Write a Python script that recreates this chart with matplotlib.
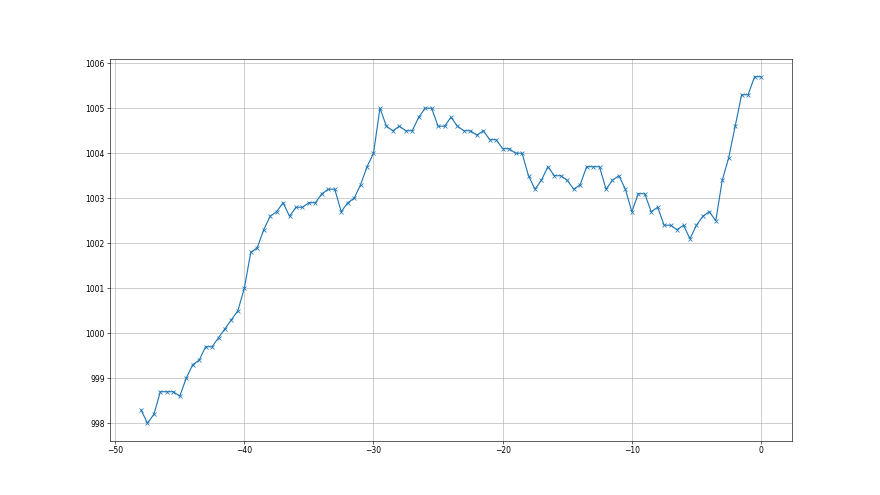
import numpy as np
import matplotlib
matplotlib.use('Agg')
import matplotlib.pyplot as plt

# hours before now, half-hour steps
hours = np.arange(-48, 0.01, 0.5)

pressure = [
    998.3, 998.0, 998.2, 998.7, 998.7, 998.7, 998.6, 999.0, 999.3, 999.4,
    999.7, 999.7, 999.9, 1000.1, 1000.3, 1000.5, 1001.0, 1001.8, 1001.9, 1002.3,
    1002.6, 1002.7, 1002.9, 1002.6, 1002.8, 1002.8, 1002.9, 1002.9, 1003.1, 1003.2,
    1003.2, 1002.7, 1002.9, 1003.0, 1003.3, 1003.7, 1004.0, 1005.0, 1004.6, 1004.5,
    1004.6, 1004.5, 1004.5, 1004.8, 1005.0, 1005.0, 1004.6, 1004.6, 1004.8, 1004.6,
    1004.5, 1004.5, 1004.4, 1004.5, 1004.3, 1004.3, 1004.1, 1004.1, 1004.0, 1004.0,
    1003.5, 1003.2, 1003.4, 1003.7, 1003.5, 1003.5, 1003.4, 1003.2, 1003.3, 1003.7,
    1003.7, 1003.7, 1003.2, 1003.4, 1003.5, 1003.2, 1002.7, 1003.1, 1003.1, 1002.7,
    1002.8, 1002.4, 1002.4, 1002.3, 1002.4, 1002.1, 1002.4, 1002.6, 1002.7, 1002.5,
    1003.4, 1003.9, 1004.6, 1005.3, 1005.3, 1005.7, 1005.7,
]

fig, ax = plt.subplots(figsize=(16, 9))
ax.plot(hours, pressure, marker='x')
ax.grid(True)

fig.savefig('out.png', dpi=55)
